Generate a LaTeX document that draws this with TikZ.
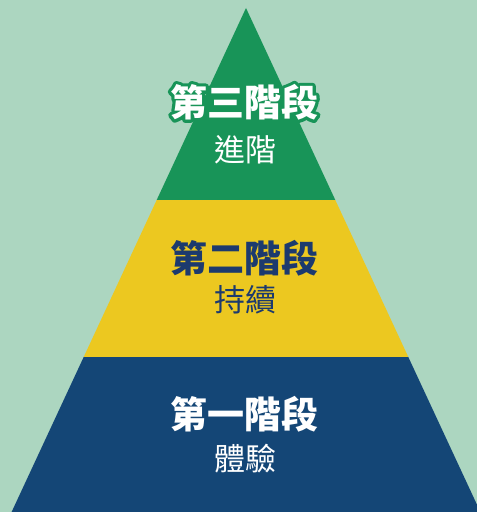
\documentclass[tikz,border=0pt]{standalone}
\usepackage{fontspec}
\newfontfamily\cjk{Noto Sans CJK TC}
\definecolor{bgc}{RGB}{172,214,192}
\definecolor{topg}{RGB}{24,148,88}
\definecolor{midy}{RGB}{236,200,32}
\definecolor{botb}{RGB}{20,70,118}
\definecolor{navy}{RGB}{28,58,110}
\newcommand{\haloed}[1]{%
  \special{pdf:literal direct q 1 Tr 6.4 w 1 J 1 j 0.094 0.58 0.345 RG}%
  #1\special{pdf:literal direct Q}}
\tikzset{
  layer/.style={draw=none},
  bigtxt/.style={font=\cjk\bfseries\fontsize{37}{40}\selectfont, inner sep=0pt},
  subtxt/.style={font=\cjk\fontsize{31}{34}\selectfont, inner sep=0pt},
}
\begin{document}
\begin{tikzpicture}[x=1pt,y=1pt]
\useasboundingbox (0,0) rectangle (477,512);
\clip (0,0) rectangle (477,512);
\fill[bgc] (0,0) rectangle (477,512);
% layers
\fill[layer, botb] (11.6,0) -- (480.4,0) -- (408.3,155) -- (83.7,155) -- cycle;
\fill[layer, midy] (83.7,155) -- (408.3,155) -- (335.3,312) -- (156.7,312) -- cycle;
\fill[layer, topg] (156.7,312) -- (335.3,312) -- (246,504) -- cycle;
% top text with green outline
\node[bigtxt, text=topg] (t3h) at (244,410) {\haloed{第三階段}};
\node[bigtxt, text=white] (t3) at (244,410) {第三階段};
\node[subtxt, text=white] (s3) at (245,362) {進階};
\node[bigtxt, text=navy] (t2) at (244,254) {第二階段};
\node[subtxt, text=navy] (s2) at (245,212) {持續};
\node[bigtxt, text=white] (t1) at (244,98) {第一階段};
\node[subtxt, text=white] (s1) at (245,53) {體驗};
\end{tikzpicture}
\end{document}
